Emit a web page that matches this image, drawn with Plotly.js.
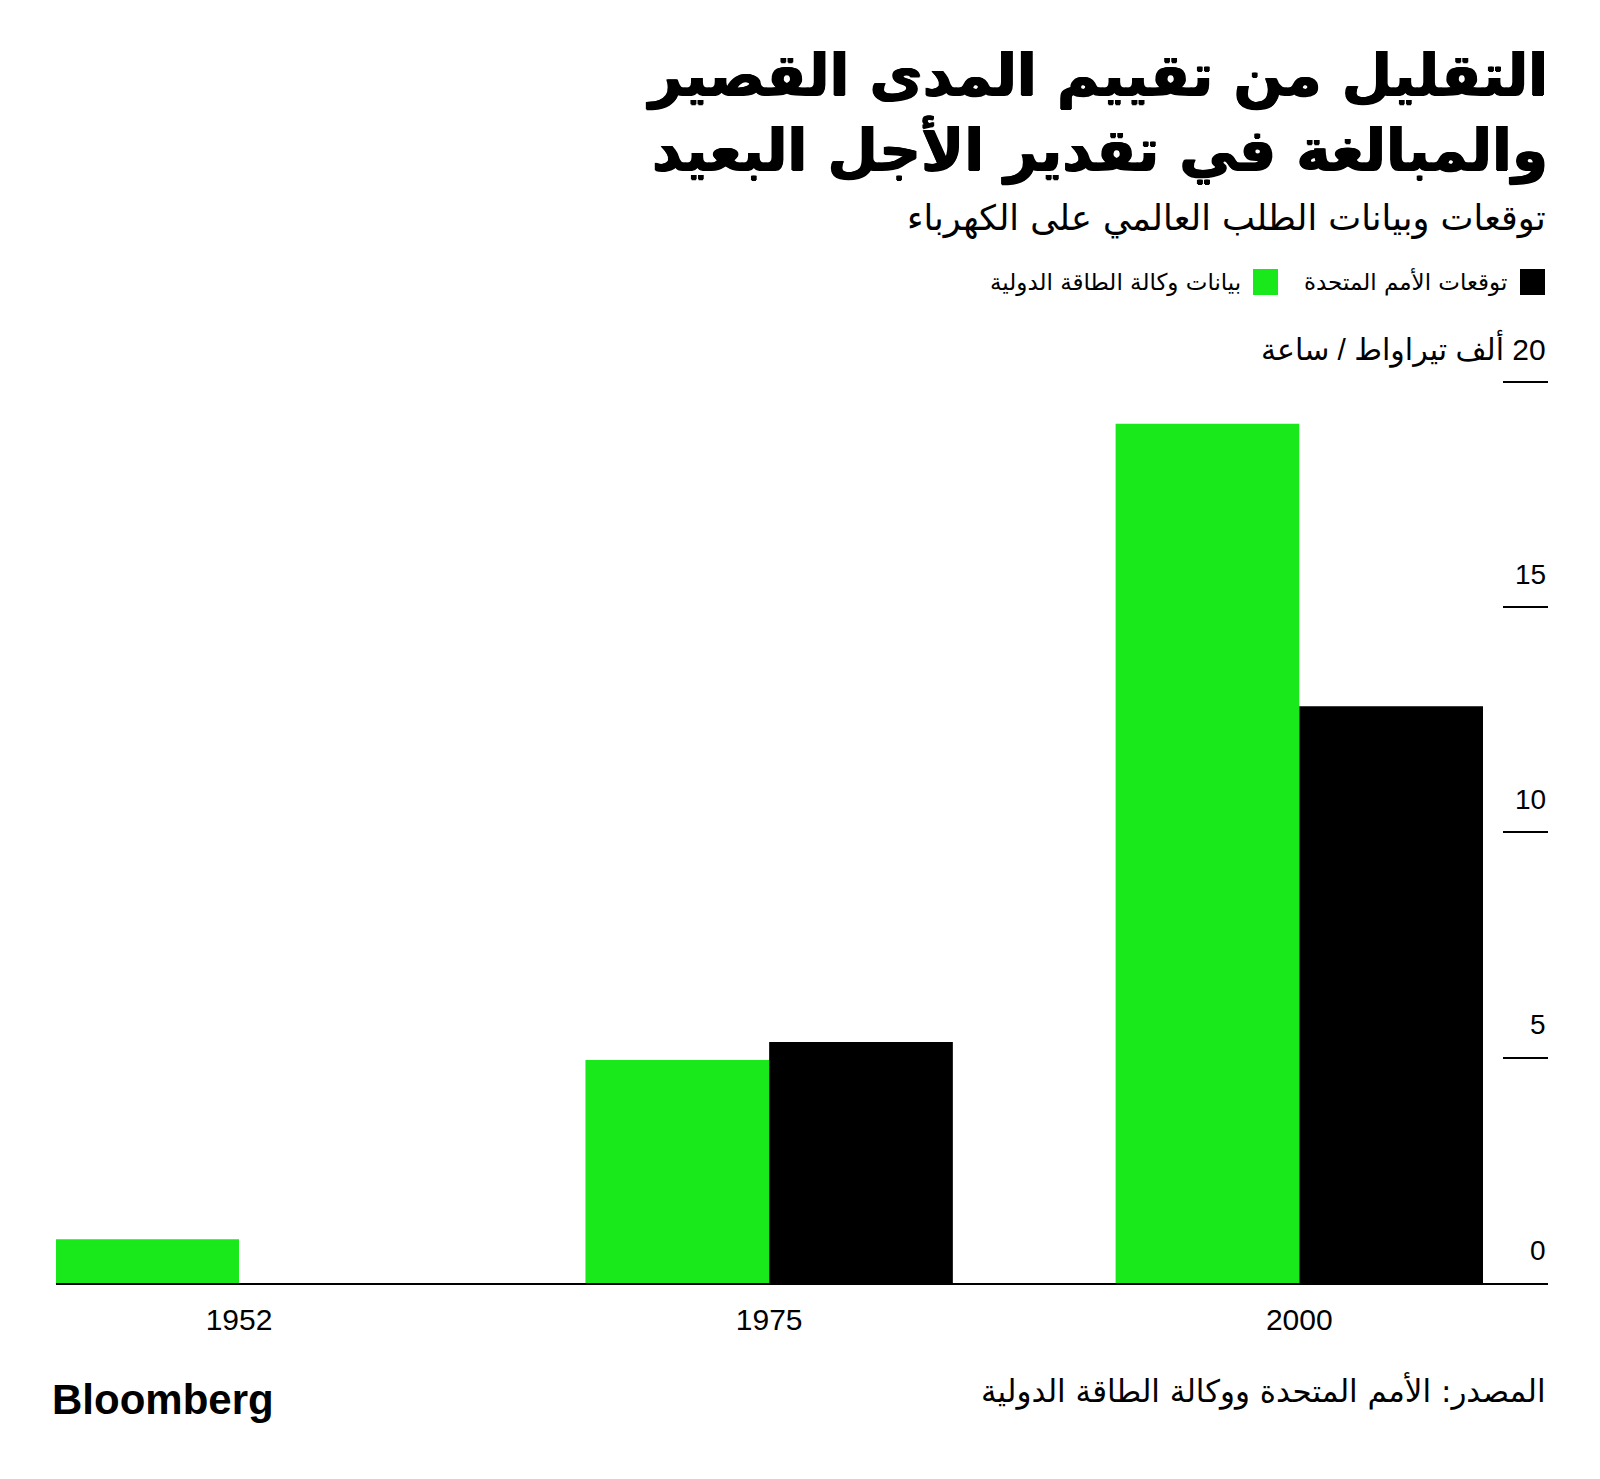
<!DOCTYPE html>
<html>
<head>
<meta charset="utf-8">
<script src="https://cdn.plot.ly/plotly-3.0.1.min.js"></script>
<style>
  html, body { margin: 0; padding: 0; background: #ffffff; }
  #chart { width: 1600px; height: 1479px; }
</style>
</head>
<body>
<div id="chart"></div>
<script>
// ---- Data ----
const years = ['1952', '1975', '2000'];
const ieaData = [0.97, 4.95, 19.07];        // بيانات وكالة الطاقة الدولية (green)
const unForecast = [null, 5.35, 12.8];      // توقعات الأمم المتحدة (black)
const seriesNames = ['بيانات وكالة الطاقة الدولية', 'توقعات الأمم المتحدة'];
const seriesColors = ['#19E91A', '#000000'];
const yTickVals = [0, 5, 10, 15, 20];
const yTickLabels = ['0', '5', '10', '15', '\u200F20 ألف تيراواط / ساعة'];
const titleLines = ['التقليل من تقييم المدى القصير', 'والمبالغة في تقدير الأجل البعيد'];
const subtitleText = 'توقعات وبيانات الطلب العالمي على الكهرباء';
const sourceText = 'المصدر: الأمم المتحدة ووكالة الطاقة الدولية';
const brandText = 'Bloomberg';

// ---- Layout geometry helpers ----
const W = 1600, H = 1479;
const M = { l: 56, r: 52, t: 380, b: 196 };
const plotW = W - M.l - M.r;
const plotH = H - M.t - M.b;
const px2x = px => (px - M.l) / plotW;
const py2y = py => (H - M.b - py) / plotH;

const ARABIC = 'DejaVu Sans, Liberation Sans, sans-serif';
const LATIN = 'Liberation Sans, Arial, DejaVu Sans, sans-serif';

const traces = [
  {
    type: 'bar', x: years, y: ieaData, name: seriesNames[0],
    marker: { color: seriesColors[0], line: { width: 0 } },
    hoverinfo: 'x+y+name'
  },
  {
    type: 'bar', x: years, y: unForecast, name: seriesNames[1],
    marker: { color: seriesColors[1], line: { width: 0 } },
    hoverinfo: 'x+y+name'
  }
];

const annotations = [];
// y-axis labels above the tick lines
yTickVals.forEach((v, i) => {
  annotations.push({
    x: 1, xref: 'paper', xanchor: 'right',
    y: v, yref: 'y', yanchor: 'middle', yshift: 33,
    text: yTickLabels[i], showarrow: false,
    font: { family: LATIN, size: i === yTickVals.length - 1 ? 30 : 28, color: '#000' }
  });
});
// subtitle
annotations.push({
  x: 1, xref: 'paper', xanchor: 'right',
  y: py2y(219), yref: 'paper', yanchor: 'middle',
  text: subtitleText, showarrow: false,
  font: { family: ARABIC, size: 35, color: '#000' }
});
// custom RTL legend: black (UN) at right, green (IEA) to its left
const legendItems = [
  { name: seriesNames[1], color: seriesColors[1], sq: [1520, 1545], textRight: 1509 },
  { name: seriesNames[0], color: seriesColors[0], sq: [1253, 1278], textRight: 1243 }
];
const shapes = [];
legendItems.forEach(it => {
  shapes.push({
    type: 'rect', xref: 'paper', yref: 'paper',
    x0: px2x(it.sq[0]), x1: px2x(it.sq[1]),
    y0: py2y(295), y1: py2y(269),
    fillcolor: it.color, line: { width: 0 }
  });
  annotations.push({
    x: px2x(it.textRight), xref: 'paper', xanchor: 'right',
    y: py2y(282), yref: 'paper', yanchor: 'middle',
    text: it.name, showarrow: false,
    font: { family: ARABIC, size: 23, color: '#000' }
  });
});
// footer
annotations.push({
  x: px2x(50), xref: 'paper', xanchor: 'left',
  y: py2y(1399), yref: 'paper', yanchor: 'middle',
  text: '<b>' + brandText + '</b>', showarrow: false,
  font: { family: LATIN, size: 42, color: '#000' }
});
annotations.push({
  x: 1, xref: 'paper', xanchor: 'right',
  y: py2y(1391), yref: 'paper', yanchor: 'middle',
  text: sourceText, showarrow: false,
  font: { family: ARABIC, size: 31, color: '#000' }
});

const layout = {
  width: W, height: H,
  paper_bgcolor: '#ffffff', plot_bgcolor: '#ffffff',
  margin: M,
  showlegend: false,
  barmode: 'group',
  bargap: 0.307,
  bargroupgap: 0,
  title: {
    text: titleLines.join('<br>'),
    x: 1, xref: 'paper', xanchor: 'right',
    y: 1 - 95 / H, yref: 'container', yanchor: 'top',
    font: {
      family: ARABIC, size: 58, color: '#000', weight: 'bold',
      shadow: '0.8px 0 0 #000, -0.8px 0 0 #000, 0 0.8px 0 #000'
    }
  },
  xaxis: {
    type: 'category',
    range: [-(239 - M.l) / 530.15, 2 + (W - M.r - 1299.3) / 530.15],
    showgrid: false, zeroline: false,
    showline: true, linecolor: '#000', linewidth: 2,
    ticks: '', ticklabelstandoff: 9,
    tickfont: { family: LATIN, size: 30, color: '#000' },
    fixedrange: true
  },
  yaxis: {
    range: [0, 20.04], side: 'right',
    showgrid: false, zeroline: false, showline: false,
    tickmode: 'array', tickvals: yTickVals.slice(1),
    ticks: 'inside', ticklen: 45, tickwidth: 2, tickcolor: '#000',
    showticklabels: false,
    fixedrange: true
  },
  annotations: annotations,
  shapes: shapes
};

Plotly.newPlot('chart', traces, layout, { displayModeBar: false, staticPlot: true });
</script>
</body>
</html>
